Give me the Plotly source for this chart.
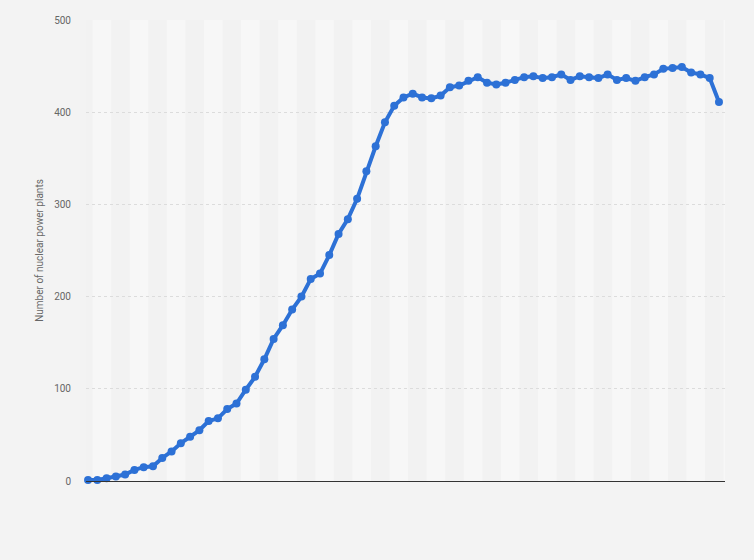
import plotly.graph_objects as go

years = list(range(1954, 2023))
plants = [1, 1, 3, 5, 7, 12, 15, 16, 25, 32,
          41, 48, 55, 65, 68, 78, 84, 99, 113, 132,
          154, 169, 186, 200, 219, 225, 245, 268, 284, 306,
          336, 363, 389, 407, 416, 420, 416, 415, 418, 427,
          429, 434, 438, 432, 430, 432, 435, 438, 439, 437,
          438, 441, 435, 439, 438, 437, 441, 435, 437, 434,
          438, 441, 447, 448, 449, 443, 441, 437, 411]
y_ticks = [0, 100, 200, 300, 400, 500]
y_title = "Number of nuclear power plants"

x_min, x_max = years[0] - 0.22, years[-1] + 0.65

fig = go.Figure()
fig.add_trace(go.Scatter(
    x=years, y=plants, mode="lines+markers",
    line=dict(color="#2d71d6", width=4),
    marker=dict(color="#2d71d6", size=8),
    cliponaxis=False, hoverinfo="x+y", showlegend=False,
))

shapes = [dict(type="rect", xref="x", yref="paper", x0=x_min, x1=x_max,
               y0=0, y1=1, fillcolor="#f2f2f2", line=dict(width=0), layer="below")]
start = years[0] + 0.5
while start < x_max:
    shapes.append(dict(type="rect", xref="x", yref="paper",
                       x0=max(start, x_min), x1=min(start + 2, x_max), y0=0, y1=1,
                       fillcolor="#f7f7f7", line=dict(width=0), layer="below"))
    start += 4

fig.update_layout(
    width=754, height=560,
    margin=dict(l=86, r=29, t=20, b=79),
    paper_bgcolor="#f3f3f3", plot_bgcolor="#f3f3f3",
    font=dict(family="Roboto, Arial, sans-serif", color="#666666", size=10),
    shapes=shapes,
    xaxis=dict(range=[x_min, x_max], showgrid=False, zeroline=False,
               showticklabels=False, ticks="", showline=True,
               linecolor="#333333", linewidth=1.2),
    yaxis=dict(range=[0, 500], tickvals=y_ticks, showgrid=True,
               gridcolor="#dcdcdc", griddash="dot", gridwidth=1,
               zeroline=False, ticks="", ticklabelstandoff=14,
               tickfont=dict(size=10, color="#666666"),
               title=dict(text=y_title, font=dict(size=10, color="#666666"), standoff=8)),
)

fig.write_html("out.html", config={"displayModeBar": False},
               post_script="document.body.style.margin='0';")
